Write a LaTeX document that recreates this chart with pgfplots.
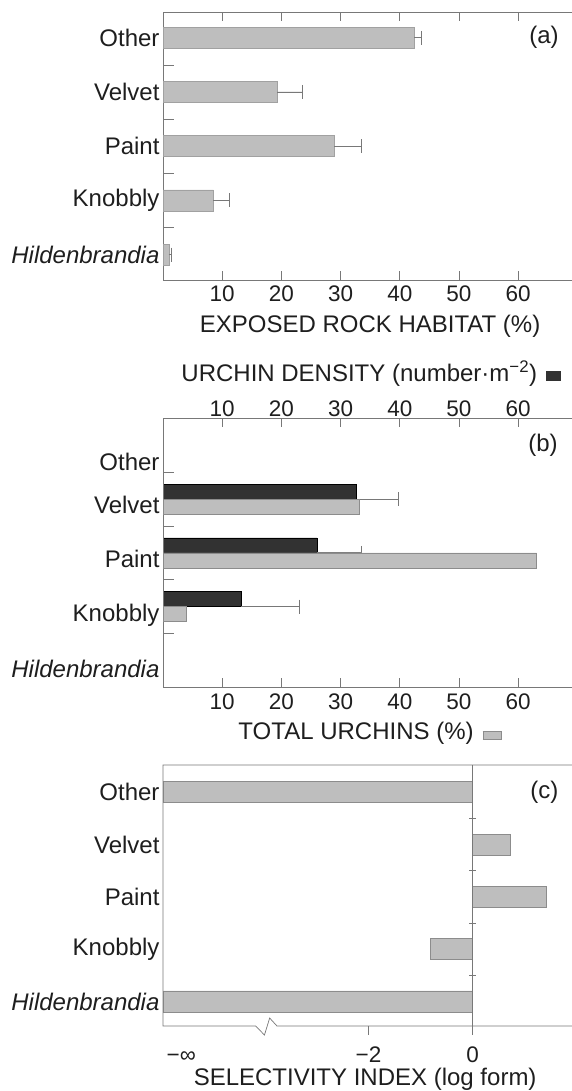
\documentclass[border=0pt]{standalone}
\usepackage{pgfplots}
\pgfplotsset{compat=1.18}
\usepackage{fontspec}
\setmainfont{Liberation Sans}
\definecolor{lightbar}{RGB}{190,190,190}
\definecolor{lightedge}{RGB}{140,140,140}
\definecolor{darkbar}{RGB}{50,50,50}
\definecolor{framegray}{RGB}{120,120,120}
\definecolor{txt}{RGB}{30,30,30}
\newcommand{\fs}{\fontsize{24}{27}\selectfont}
\newcommand{\fst}{\fontsize{22.5}{25}\selectfont}

\pgfplotstableread{
cat val err
4 42.4 1.2
3 19.3 4.2
2 28.9 4.6
1 8.5 2.7
0 1.0 0.4
}\habitat

\pgfplotstableread{
cat val err
3 32.7 7.0
2 26.0 7.5
1 13.2 9.8
}\density

\pgfplotstableread{
cat val
3 33.2
2 63.1
1 4.0
}\total

\pgfplotstableread{
cat val
4 -5.95
3 0.715
2 1.42
1 -0.815
0 -5.95
}\selectivity

\begin{document}
\begin{tikzpicture}
\path[use as bounding box] (0,0) rectangle (571pt,-1091pt);
\pgfplotsset{
  base/.style={
    scale only axis, width=410pt, clip=false,
    axis line style={framegray, line width=0.7pt},
    tick style={framegray, line width=0.7pt},
    tick align=inside, major tick length=9pt,
    ytick={0,1,2,3,4},
    yticklabels={\textit{Hildenbrandia},Knobbly,Paint,Velvet,Other},
    y tick style={draw=none},
    y tick label style={font=\fs, text=txt},
    x tick label style={font=\fst, text=txt},
    /pgf/number format/assume math mode=true,
    label style={font=\fs, text=txt},
  },
  errs/.style={error bars/.cd, x dir=plus, x explicit,
    error bar style={framegray, line width=0.7pt},
    error mark=|, error mark options={framegray, line width=0.7pt, mark size=7pt}},
}

% ---------- (a)
\begin{axis}[base, at={(163pt,-12.3pt)}, anchor=north west,
  height=267.7pt, xmin=0, xmax=69.26, ymin=-0.47, ymax=4.47,
  xtick={10,20,30,40,50,60},
  x tick label style={yshift=-2pt},
  xlabel={EXPOSED ROCK HABITAT (\%)},
  xlabel style={at={(axis description cs:0.505,0)}, anchor=center, yshift=-46pt},
]
\addplot[xbar, bar width=21pt, fill=lightbar, draw=lightbar!85!black, line width=0.4pt, errs]
  table[x=val, y=cat, x error=err] {\habitat};
\pgfplotsinvokeforeach{0.5,1.5,2.5,3.5}{\draw[framegray, line width=0.7pt] (axis cs:0,#1) -- ++(11pt,0pt);}
\node[font=\fs, text=txt] at (axis cs:64.35,4) {(a)};
\end{axis}

% ---------- (b) top axis (urchin density)
\begin{axis}[base, at={(163pt,-418.3pt)}, anchor=north west,
  height=269pt, xmin=0, xmax=69.26, ymin=-0.5, ymax=4.5,
  axis x line*=top, axis y line=none,
  xtick={10,20,30,40,50,60},
  x tick label style={yshift=-2pt},
  xlabel={URCHIN DENSITY (number·m\textsuperscript{−2})\hspace{9pt}{\color{darkbar}\rule{15pt}{10pt}}},
  xlabel style={at={(axis description cs:0.508,1)}, anchor=center, yshift=45pt, xshift=0pt},
]
\addplot[xbar, bar width=15pt, bar shift=7.5pt, fill=darkbar, draw=black, line width=0.4pt, errs]
  table[x=val, y=cat, x error=err] {\density};
\end{axis}

% ---------- (b) bottom axis (total urchins)
\begin{axis}[base, at={(163pt,-418.3pt)}, anchor=north west,
  height=269pt, xmin=0, xmax=69.26, ymin=-0.5, ymax=4.5,
  axis x line*=bottom, axis y line*=left,
  ytick={-0.16,0.84,1.88,2.89,3.69},
  xtick={10,20,30,40,50,60},
  x tick label style={yshift=-3pt},
  xlabel={TOTAL URCHINS (\%)\hspace{9pt}{\setlength{\fboxsep}{0pt}\setlength{\fboxrule}{0.5pt}\fcolorbox{lightedge}{lightbar}{\rule{0pt}{8pt}\hspace{18pt}}}},
  xlabel style={at={(axis description cs:0.505,0)}, anchor=center, yshift=-45.7pt},
]
\addplot[xbar, bar width=15pt, bar shift=-7.5pt, fill=lightbar, draw=lightedge, line width=0.5pt]
  table[x=val, y=cat] {\total};
\pgfplotsinvokeforeach{0.5,1.5,2.5,3.5}{\draw[framegray, line width=0.7pt] (axis cs:0,#1) -- ++(11pt,0pt);}
\draw[framegray, line width=0.7pt] (axis cs:0,4.5) -- (axis cs:69.26,4.5);
\node[font=\fs, text=txt] at (axis cs:64.2,4.0) {(b)};
\end{axis}

% ---------- (c)
\begin{axis}[base, at={(163pt,-765pt)}, anchor=north west,
  height=261pt, xmin=-5.95, xmax=1.93, ymin=-0.47, ymax=4.52,
  axis line style={draw=none},
  xtick={-5.6,-2,0}, xticklabels={−∞,−2,0},
  x tick style={draw=none},
  x tick label style={anchor=base, inner sep=0pt, yshift=-36pt},
  xlabel={SELECTIVITY INDEX (log form)},
  xlabel style={at={(axis description cs:0.493,0)}, anchor=center, inner sep=0.5pt, yshift=-53pt},
]
\addplot[xbar, bar width=21pt, fill=lightbar, draw=lightedge, line width=0.5pt]
  table[x=val, y=cat] {\selectivity};
\draw[framegray, line width=0.7pt] (axis cs:1.93,4.52) -- (axis cs:-5.95,4.52) -- (axis cs:-5.95,-0.47)
  -- (axis cs:-4.17,-0.47) -- ([yshift=-9pt]axis cs:-4.0,-0.47) -- ([yshift=8pt]axis cs:-3.90,-0.47)
  -- (axis cs:-3.76,-0.47) -- (axis cs:1.93,-0.47);
\draw[framegray, line width=0.7pt] (axis cs:0,4.52) -- ([yshift=-9pt]axis cs:0,-0.47);
\draw[framegray, line width=0.7pt] (axis cs:-2,-0.47) -- ([yshift=-9pt]axis cs:-2,-0.47);
\pgfplotsinvokeforeach{0.5,1.5,2.5,3.5}{\draw[framegray, line width=0.7pt] ([xshift=-3.5pt]axis cs:0,#1) -- ([xshift=3.5pt]axis cs:0,#1);}
\node[font=\fs, text=txt] at (axis cs:1.38,4) {(c)};
\end{axis}
\end{tikzpicture}
\end{document}
